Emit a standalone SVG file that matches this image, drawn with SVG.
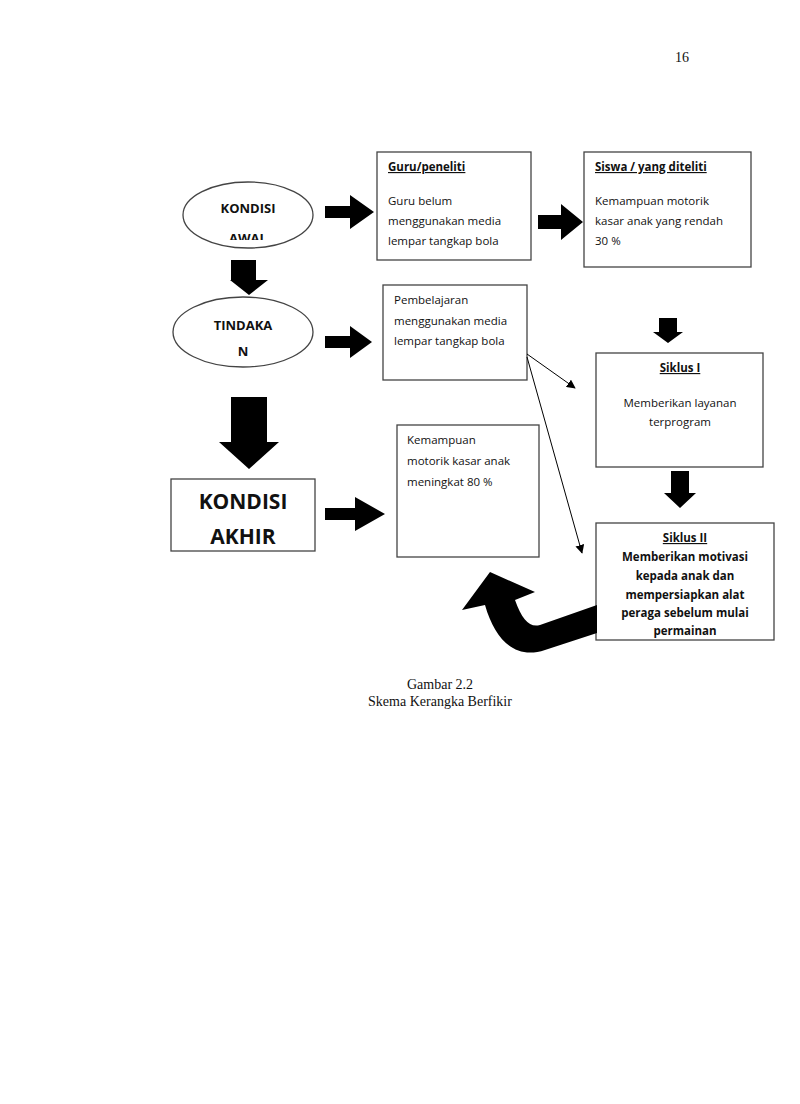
<svg xmlns="http://www.w3.org/2000/svg" width="800" height="1104" viewBox="0 0 800 1104">
<style>
.b{fill:#fff;stroke:#444;stroke-width:1.3}
.t{font-family:"Open Sans","Liberation Sans",sans-serif;font-size:11.5px;fill:#111}
.h{font-weight:bold;text-decoration:underline}
.k{font-family:"Open Sans","Liberation Sans",sans-serif;font-weight:bold;fill:#111}
.s{font-family:"Liberation Serif",serif;font-size:14px;fill:#111}
.a{fill:#000}
</style>
<defs>
<marker id="m" viewBox="0 0 10 10" refX="9" refY="5" markerWidth="9" markerHeight="9" orient="auto"><path d="M0,0L10,5L0,10z" fill="#000"/></marker>
<clipPath id="c1"><rect x="170" y="180" width="160" height="60"/></clipPath>
<clipPath id="c2"><rect x="170" y="295" width="160" height="67"/></clipPath>
</defs>
<text class="s" x="675" y="62">16</text>
<g id="awal"><ellipse class="b" cx="248" cy="215" rx="65" ry="33"/>
<g clip-path="url(#c1)"><text class="k" font-size="13" x="248" y="213" text-anchor="middle">KONDISI</text><text class="k" font-size="13" x="248" y="243" text-anchor="middle">AWAL</text></g></g>
<g id="guru"><rect class="b" x="377" y="152" width="154" height="108"/>
<text class="t" x="388" y="171"><tspan class="h">Guru/peneliti</tspan><tspan x="388" y="205">Guru belum</tspan><tspan x="388" y="225">menggunakan media</tspan><tspan x="388" y="245">lempar tangkap bola</tspan></text></g>
<g id="siswa"><rect class="b" x="584" y="152" width="167" height="115"/>
<text class="t" x="595" y="171"><tspan class="h">Siswa / yang diteliti</tspan><tspan x="595" y="205">Kemampuan motorik</tspan><tspan x="595" y="225">kasar anak yang rendah</tspan><tspan x="595" y="245">30 %</tspan></text></g>
<g id="tindakan"><ellipse class="b" cx="243" cy="332" rx="70" ry="35"/>
<g clip-path="url(#c2)"><text class="k" font-size="13" x="243" y="330" text-anchor="middle">TINDAKA</text><text class="k" font-size="13" x="243" y="356" text-anchor="middle">N</text></g></g>
<g id="pembelajaran"><rect class="b" x="383" y="285" width="144" height="95"/>
<text class="t" x="394" y="304"><tspan>Pembelajaran</tspan><tspan x="394" y="325">menggunakan media</tspan><tspan x="394" y="345">lempar tangkap bola</tspan></text></g>
<g id="siklus1"><rect class="b" x="596" y="353" width="167" height="114"/>
<text class="t" text-anchor="middle"><tspan class="h" x="680" y="372">Siklus I</tspan><tspan x="680" y="407">Memberikan layanan</tspan><tspan x="680" y="426">terprogram</tspan></text></g>
<g id="akhir"><rect class="b" x="171" y="479" width="144" height="72"/>
<text class="k" font-size="21" text-anchor="middle"><tspan x="243" y="509">KONDISI</tspan><tspan x="243" y="544">AKHIR</tspan></text></g>
<g id="hasil"><rect class="b" x="397" y="425" width="142" height="132"/>
<text class="t" x="407" y="444"><tspan>Kemampuan</tspan><tspan x="407" y="465">motorik kasar anak</tspan><tspan x="407" y="486">meningkat 80 %</tspan></text></g>
<g id="siklus2"><rect class="b" x="596" y="523" width="178" height="117"/>
<text class="t" font-weight="bold" text-anchor="middle"><tspan class="h" x="685" y="542">Siklus II</tspan><tspan x="685" y="561">Memberikan motivasi</tspan><tspan x="685" y="580">kepada anak dan</tspan><tspan x="685" y="599">mempersiapkan alat</tspan><tspan x="685" y="617">peraga sebelum mulai</tspan><tspan x="685" y="635">permainan</tspan></text></g>
<g id="connectors">
<path class="a" d="M325,206h25v-11l24,17l-24,17v-11h-25z"/>
<path class="a" d="M538,215h23v-11l22,18l-22,18v-11h-23z"/>
<path class="a" d="M325,336h25v-10l22,16l-22,16v-10h-25z"/>
<path class="a" d="M325,508h30v-11l30,17l-30,17v-11h-30z"/>
<path class="a" d="M231,260h25v20h12l-19,15l-19,-15h1z"/>
<path class="a" d="M231,397h36v45h12l-30,27l-30,-27h12z"/>
<path class="a" d="M659,318h18v14h6l-15,11l-15,-11h6z"/>
<path class="a" d="M671,471h18v22h7l-16,15l-16,-15h7z"/>
<line x1="527" y1="354" x2="575" y2="388" stroke="#000" stroke-width="1" marker-end="url(#m)"/>
<line x1="527" y1="357" x2="582" y2="553" stroke="#000" stroke-width="1" marker-end="url(#m)"/>
<path class="a" d="M597,605L540,625C530,628 522,620 515,600L535,592L490,572L462,610L485,605C495,640 515,660 545,650L597,633z"/>
</g>
<text class="s" x="440" y="689" text-anchor="middle">Gambar 2.2</text>
<text class="s" x="440" y="706" text-anchor="middle">Skema Kerangka Berfikir</text>
</svg>
